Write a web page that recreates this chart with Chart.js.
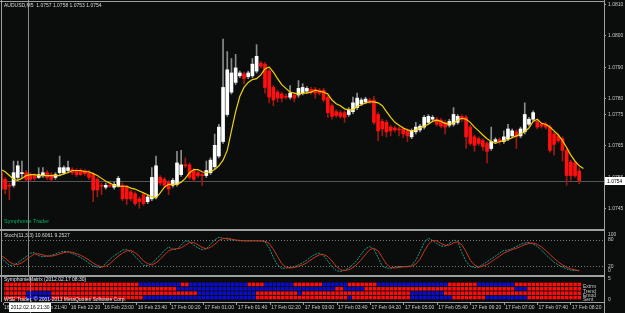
<!DOCTYPE html>
<html>
<head>
<meta charset="utf-8">
<script src="https://cdn.jsdelivr.net/npm/chart.js@4.4.1/dist/chart.umd.min.js"></script>
<style>
html, body { margin: 0; padding: 0; background: #0b0d0d; }
#wrap { position: relative; width: 625px; height: 313px; overflow: hidden; background: #0b0d0d; }
canvas { position: absolute; left: 0; }
</style>
</head>
<body>
<div id="wrap">
  <canvas id="main" width="625" height="229" style="top:0px"></canvas>
  <canvas id="stoch" width="625" height="47" style="top:229px"></canvas>
  <canvas id="sym" width="625" height="37" style="top:276px"></canvas>
</div>
<script>
// AUDUSD M5, bar 0 = 16 Feb 21:00
var symbol = 'AUDUSD,M5';
var open = [1.07565,1.07544,1.07525,1.07525,1.07550,1.07562,1.07565,1.07559,1.07556,1.07550,
  1.07556,1.07565,1.07559,1.07550,1.07565,1.07565,1.07572,1.07575,1.07572,1.07572,
  1.07572,1.07565,1.07559,1.07544,1.07525,1.07519,1.07525,1.07519,1.07522,1.07525,
  1.07519,1.07504,1.07498,1.07482,1.07495,1.07473,1.07482,1.07488,1.07550,1.07544,
  1.07535,1.07525,1.07528,1.07559,1.07590,1.07590,1.07572,1.07565,1.07559,1.07556,
  1.07565,1.07584,1.07618,1.07664,1.07750,1.07821,1.07852,1.07873,1.07879,1.07870,
  1.07873,1.07888,1.07913,1.07910,1.07888,1.07836,1.07821,1.07815,1.07808,1.07805,
  1.07812,1.07812,1.07818,1.07824,1.07830,1.07830,1.07827,1.07827,1.07805,1.07778,
  1.07759,1.07756,1.07756,1.07750,1.07759,1.07772,1.07784,1.07790,1.07796,1.07796,
  1.07750,1.07728,1.07725,1.07710,1.07707,1.07704,1.07704,1.07698,1.07679,1.07695,
  1.07701,1.07710,1.07725,1.07735,1.07735,1.07732,1.07725,1.07716,1.07719,1.07725,
  1.07744,1.07741,1.07710,1.07679,1.07673,1.07667,1.07658,1.07642,1.07664,1.07670,
  1.07664,1.07673,1.07682,1.07695,1.07682,1.07695,1.07719,1.07735,1.07728,1.07719,
  1.07719,1.07710,1.07688,1.07682,1.07673,1.07636,1.07599,1.07596,1.0757];
var high = [1.07572,1.07550,1.07532,1.07602,1.07602,1.07602,1.07572,1.07565,1.07562,1.07581,
  1.07581,1.07572,1.07565,1.07565,1.07618,1.07587,1.07602,1.07581,1.07578,1.07578,
  1.07575,1.07572,1.07565,1.07550,1.07532,1.07532,1.07532,1.07535,1.07553,1.07532,
  1.07525,1.07510,1.07504,1.07488,1.07501,1.07495,1.07581,1.07618,1.07556,1.07550,
  1.07541,1.07547,1.07633,1.07636,1.07612,1.07596,1.07578,1.07572,1.07565,1.07602,
  1.07612,1.07688,1.07719,1.07990,1.07950,1.07928,1.07941,1.07888,1.07885,1.07888,
  1.07928,1.07972,1.07919,1.07916,1.07895,1.07842,1.07827,1.07821,1.07815,1.07842,
  1.07818,1.07858,1.07848,1.07839,1.07836,1.07836,1.07833,1.07833,1.07812,1.07784,
  1.07765,1.07762,1.07762,1.07772,1.07805,1.07818,1.07802,1.07805,1.07802,1.07808,
  1.07756,1.07735,1.07732,1.07716,1.07713,1.07710,1.07710,1.07704,1.07704,1.07725,
  1.07719,1.07747,1.07750,1.07747,1.07741,1.07738,1.07732,1.07735,1.07772,1.07750,
  1.07750,1.07747,1.07716,1.07685,1.07679,1.07673,1.07664,1.07710,1.07676,1.07676,
  1.07698,1.07719,1.07704,1.07701,1.07710,1.07787,1.07741,1.07762,1.07735,1.07725,
  1.07725,1.07716,1.07695,1.07688,1.07679,1.07642,1.07605,1.07602,1.0758];
var low = [1.07507,1.07498,1.07479,1.07519,1.07544,1.07550,1.07538,1.07538,1.07541,1.07547,
  1.07550,1.07544,1.07538,1.07544,1.07559,1.07559,1.07565,1.07559,1.07553,1.07556,
  1.07556,1.07544,1.07473,1.07488,1.07495,1.07513,1.07519,1.07513,1.07519,1.07476,
  1.07464,1.07476,1.07461,1.07452,1.07461,1.07467,1.07476,1.07482,1.07525,1.07519,
  1.07495,1.07519,1.07522,1.07553,1.07581,1.07544,1.07538,1.07550,1.07525,1.07550,
  1.07559,1.07578,1.07612,1.07658,1.07744,1.07815,1.07845,1.07867,1.07848,1.07864,
  1.07867,1.07882,1.07898,1.07818,1.07787,1.07778,1.07790,1.07790,1.07799,1.07799,
  1.07790,1.07805,1.07812,1.07818,1.07815,1.07802,1.07812,1.07790,1.07741,1.07735,
  1.07741,1.07738,1.07725,1.07744,1.07753,1.07765,1.07778,1.07784,1.07784,1.07719,
  1.07667,1.07682,1.07679,1.07682,1.07695,1.07682,1.07676,1.07664,1.07673,1.07688,
  1.07695,1.07704,1.07719,1.07728,1.07713,1.07707,1.07688,1.07710,1.07713,1.07719,
  1.07728,1.07642,1.07652,1.07633,1.07652,1.07636,1.07596,1.07636,1.07658,1.07655,
  1.07658,1.07667,1.07676,1.07642,1.07676,1.07688,1.07713,1.07728,1.07704,1.07707,
  1.07704,1.07630,1.07621,1.07661,1.07602,1.07525,1.07541,1.07550,1.0753];
var close = [1.07513,1.07513,1.07522,1.07565,1.07587,1.07565,1.07544,1.07544,1.07547,1.07559,
  1.07565,1.07550,1.07544,1.07559,1.07581,1.07581,1.07581,1.07565,1.07559,1.07559,
  1.07562,1.07550,1.07510,1.07510,1.07522,1.07525,1.07522,1.07528,1.07547,1.07482,
  1.07482,1.07482,1.07467,1.07473,1.07467,1.07488,1.07550,1.07587,1.07532,1.07525,
  1.07513,1.07541,1.07596,1.07590,1.07587,1.07550,1.07544,1.07556,1.07556,1.07572,
  1.07605,1.07652,1.07710,1.07836,1.07892,1.07882,1.07898,1.07882,1.07864,1.07882,
  1.07910,1.07935,1.07904,1.07836,1.07805,1.07796,1.07802,1.07802,1.07805,1.07818,
  1.07802,1.07833,1.07836,1.07833,1.07821,1.07818,1.07818,1.07796,1.07756,1.07744,
  1.07747,1.07744,1.07741,1.07765,1.07787,1.07802,1.07796,1.07799,1.07790,1.07725,
  1.07698,1.07704,1.07695,1.07698,1.07701,1.07701,1.07688,1.07682,1.07698,1.07710,
  1.07713,1.07741,1.07744,1.07741,1.07719,1.07713,1.07710,1.07728,1.07750,1.07744,
  1.07735,1.07679,1.07658,1.07652,1.07658,1.07648,1.07633,1.07664,1.07670,1.07664,
  1.07679,1.07704,1.07698,1.07679,1.07704,1.07750,1.07735,1.07756,1.07710,1.07713,
  1.07710,1.07636,1.07655,1.07667,1.07636,1.07556,1.07556,1.07556,1.0754];
// shifted moving average (yellow), one value per bar slot
var ma = [1.07575,1.07568,1.07556,1.07544,1.07541,1.07547,1.07556,1.07559,1.07559,1.07556,
  1.07556,1.07556,1.07556,1.07556,1.07556,1.07562,1.07565,1.07572,1.07572,1.07572,
  1.07568,1.07568,1.07562,1.07556,1.07547,1.07538,1.07532,1.07525,1.07522,1.07522,
  1.07522,1.07516,1.07513,1.07507,1.07501,1.07495,1.07488,1.07485,1.07501,1.07519,
  1.07528,1.07528,1.07528,1.07535,1.07547,1.07565,1.07575,1.07575,1.07568,1.07565,
  1.07568,1.07575,1.07587,1.07605,1.07636,1.07698,1.07759,1.07808,1.07836,1.07852,
  1.07861,1.07864,1.07876,1.07895,1.07901,1.07885,1.07864,1.07845,1.07833,1.07821,
  1.07818,1.07815,1.07818,1.07818,1.07821,1.07827,1.07824,1.07821,1.07815,1.07796,
  1.07784,1.07778,1.07768,1.07765,1.07765,1.07775,1.07781,1.07787,1.07790,1.07790,
  1.07787,1.07778,1.07759,1.07741,1.07725,1.07716,1.07707,1.07701,1.07698,1.07701,
  1.07707,1.07713,1.07719,1.07728,1.07732,1.07728,1.07722,1.07719,1.07722,1.07732,
  1.07738,1.07735,1.07725,1.07710,1.07698,1.07685,1.07673,1.07664,1.07658,1.07664,
  1.07667,1.07670,1.07676,1.07682,1.07688,1.07695,1.07707,1.07728,1.07735,1.07722,
  1.07719,1.07710,1.07698,1.07685,1.07667,1.07645,1.07621,1.07602,1.07587,1.07578];
var priceTicks = [1.0745, 1.0755, 1.0765, 1.0775, 1.0780, 1.0790, 1.0800, 1.0810];

// Stoch(11,3,3)
var stochMain = [40,30,22,22,28,35,42,50,51,44,
  42,43,45,48,52,54,53,49,45,40,
  34,27,21,18,17,26,36,44,50,57,
  58,53,42,33,22,22,26,36,45,56,
  64,58,59,68,78,76,68,62,58,60,
  70,80,86,84,82,80,79,78,78,78,
  78,78,78,76,62,40,23,15,16,17,
  19,23,28,34,42,47,50,44,32,19,
  10,8,11,16,24,34,48,60,65,59,
  40,20,16,15,18,19,19,19,22,34,
  53,74,84,79,72,66,66,72,80,77,
  51,31,20,17,18,24,30,37,43,50,
  56,57,60,65,70,73,74,71,65,57,
  47,38,29,23,18,14,11,10,10.6061];
var stochSignal = [45,38,30,25,24,28,35,42,48,48,
  46,43,43,45,48,51,53,52,49,45,
  40,34,27,22,19,20,26,35,43,50,
  55,56,51,43,32,26,23,28,36,46,
  55,59,60,62,68,74,74,69,63,60,
  63,70,79,83,84,82,80,79,78,78,
  78,78,78,77,72,59,42,26,18,16,
  17,20,23,28,35,41,46,47,42,32,
  20,12,10,12,17,25,35,47,58,61,
  55,40,25,17,16,17,19,19,20,25,
  36,54,70,79,78,72,68,68,73,76,
  69,53,34,23,18,20,24,30,37,43,
  50,54,58,61,65,69,72,73,70,64,
  56,47,38,30,23,18,14,12,9.2527];
var stochLevels = [20, 80];
var stochLabels = [100, 80, 20, 0];

// SymphonieMatrix rows, runs of red (R) / blue (B) cells
var rowNames = ['Extrm', 'Trend', 'Emod', 'Sent'];
var rowLevels = [4, 3, 2, 1];
var extrmRuns = [['R',33],['B',10],['R',2],['B',14],['R',4],['B',7],['R',7],['B',6],['R',7],['B',17],['R',7],['B',9],['R',16]];
var trendRuns = [['R',42],['B',38],['R',2],['B',5],['R',36],['B',3],['R',13]];
var emodRuns = [['R',6],['B',6],['R',35],['B',14],['R',10],['B',1],['R',26],['B',8],['R',33]];
var sentRuns = [['R',6],['B',6],['R',22],['B',27],['R',22],['B',1],['R',14],['B',10],['R',8],['B',10],['R',13]];

var timeTickBars = [0,8,16,24,32,40,48,56,64,72,80,88,96,104,112,120,128,136];
var timeTickLabels = ['16 Feb 21:00','16 Feb 21:40','16 Feb 22:20','16 Feb 23:00','16 Feb 23:40','17 Feb 00:20',
  '17 Feb 01:00','17 Feb 01:40','17 Feb 02:20','17 Feb 03:00','17 Feb 03:40','17 Feb 04:20',
  '17 Feb 05:00','17 Feb 05:40','17 Feb 06:20','17 Feb 07:00','17 Feb 07:40','17 Feb 08:20'];
var cursorBar = 6.5;
var cursorLabel = '2012.02.16 21:30';
var symTitle = 'SymphonieMatrix (2012.02.17 08:30)';

var FONT = '5px "Liberation Sans", Arial, sans-serif';
var frameCol = '#a0a0a0';
var txtCol = '#c8c8c8';
var xMin = 0.2387, xMax = 143.914;

Chart.defaults.font.family = '"Liberation Sans", Arial, sans-serif';
Chart.defaults.font.size = 5;

var last = close.length - 1;
var isBull = close.map(function (c, i) { return c >= open[i]; });

function frame(ctx, h) {
  ctx.fillStyle = frameCol;
  ctx.fillRect(1, 0, 1, h);
  ctx.fillRect(604, 0, 1, h);
}
function cursorLine(chart) {
  var ctx = chart.ctx;
  var cx = Math.round(chart.scales.x.getPixelForValue(cursorBar)) + 0.5;
  ctx.save();
  ctx.strokeStyle = '#8a8a8a';
  ctx.lineWidth = 1;
  ctx.beginPath(); ctx.moveTo(cx, 0); ctx.lineTo(cx, chart.height); ctx.stroke();
  ctx.restore();
}

// ---------- main price panel ----------
var mainDeco = {
  id: 'mainDeco',
  beforeDatasetsDraw: function (chart) {
    var ctx = chart.ctx, a = chart.chartArea, y = chart.scales.y;
    var by = Math.round(y.getPixelForValue(close[last])) + 0.5;
    ctx.save();
    ctx.strokeStyle = '#555';
    ctx.lineWidth = 1;
    ctx.beginPath(); ctx.moveTo(a.left, by); ctx.lineTo(a.right, by); ctx.stroke();
    ctx.restore();
    cursorLine(chart);
  },
  afterDraw: function (chart) {
    var ctx = chart.ctx, y = chart.scales.y;
    ctx.save();
    frame(ctx, chart.height);
    ctx.fillRect(0, 1, 605, 1);
    ctx.font = FONT;
    ctx.textBaseline = 'middle';
    ctx.fillStyle = '#d8d8d8';
    ctx.fillText(symbol + '  ' + open[last].toFixed(4) + ' ' + high[last].toFixed(4) + ' ' +
      low[last].toFixed(4) + ' ' + close[last].toFixed(4), 4, 5.5);
    ctx.fillStyle = '#00b060';
    ctx.font = '5.5px "Liberation Sans", Arial, sans-serif';
    ctx.fillText('Symphonie Trader', 4, 221);
    var by = Math.round(y.getPixelForValue(close[last]));
    ctx.fillStyle = '#ffffff';
    ctx.fillRect(605, by - 4, 20, 8);
    ctx.fillStyle = '#000000';
    ctx.font = FONT;
    ctx.fillText(close[last].toFixed(4), 607, by + 0.5);
    ctx.restore();
  }
};

new Chart(document.getElementById('main'), {
  type: 'bar',
  data: {
    datasets: [
      { type: 'line', data: ma.map(function (v, i) { return { x: i, y: v }; }),
        borderColor: '#f2d200', borderWidth: 1.2, pointRadius: 0, tension: 0, order: 0 },
      { data: close.map(function (c, i) { return { x: i, y: [open[i], c] }; }),
        backgroundColor: isBull.map(function (b) { return b ? '#ffffff' : '#ff1010'; }),
        barThickness: 3, minBarLength: 1, grouped: false, borderWidth: 0, order: 1 },
      { data: close.map(function (c, i) { return { x: i, y: [low[i], high[i]] }; }),
        backgroundColor: isBull.map(function (b) { return b ? '#8c8c8c' : '#9a1a10'; }),
        barThickness: 1, grouped: false, borderWidth: 0, order: 2 }
    ]
  },
  options: {
    responsive: false, animation: false, events: [],
    layout: { padding: { left: 2, right: 0, top: 1.5, bottom: 1 } },
    plugins: { legend: { display: false }, tooltip: { enabled: false } },
    scales: {
      x: { type: 'linear', min: xMin, max: xMax, offset: false, display: false },
      y: {
        position: 'right', min: 1.07402, max: 1.08098,
        afterBuildTicks: function (s) { s.ticks = priceTicks.map(function (v) { return { value: v }; }); },
        afterFit: function (s) { s.width = 21; },
        ticks: { color: txtCol, padding: 2, font: { size: 5 },
          callback: function (v) { return Number(v).toFixed(4); } },
        grid: { display: true, drawOnChartArea: false, color: frameCol, tickLength: 2 },
        border: { display: true, color: frameCol }
      }
    }
  },
  plugins: [mainDeco]
});

// ---------- stochastic panel ----------
var stochDeco = {
  id: 'stochDeco',
  beforeDatasetsDraw: function (chart) {
    var ctx = chart.ctx, a = chart.chartArea, y = chart.scales.y;
    ctx.save();
    ctx.strokeStyle = '#7a7a7a';
    ctx.lineWidth = 1;
    ctx.setLineDash([1, 2]);
    stochLevels.forEach(function (lv) {
      var py = Math.round(y.getPixelForValue(lv)) + 0.5;
      ctx.beginPath(); ctx.moveTo(a.left, py); ctx.lineTo(a.right, py); ctx.stroke();
    });
    ctx.restore();
    cursorLine(chart);
  },
  afterDraw: function (chart) {
    var ctx = chart.ctx, a = chart.chartArea, y = chart.scales.y;
    ctx.save();
    frame(ctx, chart.height);
    ctx.fillRect(0, 0, 605, 2);
    ctx.fillRect(0, 46, 605, 1);
    ctx.font = FONT;
    ctx.textBaseline = 'middle';
    ctx.fillStyle = txtCol;
    stochLabels.forEach(function (lv) {
      var py = Math.min(Math.max(y.getPixelForValue(lv), a.top + 3), a.bottom - 4);
      ctx.fillText(String(lv), 608, py);
    });
    ctx.fillStyle = '#d8d8d8';
    ctx.fillText('Stoch(11,3,3) ' + stochMain[last].toFixed(4) + ' ' + stochSignal[last].toFixed(4), 4, 6.8);
    ctx.restore();
  }
};

new Chart(document.getElementById('stoch'), {
  type: 'line',
  data: {
    datasets: [
      { data: stochSignal.map(function (v, i) { return { x: i, y: v }; }),
        borderColor: '#d0341a', borderWidth: 1, pointRadius: 0, tension: 0 },
      { data: stochMain.map(function (v, i) { return { x: i, y: v }; }),
        borderColor: '#1f9a88', borderWidth: 1, borderDash: [2, 1], pointRadius: 0, tension: 0 }
    ]
  },
  options: {
    responsive: false, animation: false, events: [],
    layout: { padding: { left: 2, right: 0, top: 2.2, bottom: 1 } },
    plugins: { legend: { display: false }, tooltip: { enabled: false } },
    scales: {
      x: { type: 'linear', min: xMin, max: xMax, offset: false, display: false },
      y: { position: 'right', min: 0, max: 100,
        afterFit: function (s) { s.width = 21; },
        ticks: { display: false }, grid: { display: false },
        border: { display: true, color: frameCol } }
    }
  },
  plugins: [stochDeco]
});

// ---------- SymphonieMatrix panel ----------
function expand(runs) {
  var out = [];
  runs.forEach(function (r) { for (var k = 0; k < r[1]; k++) out.push(r[0]); });
  return out;
}
var rows = [expand(extrmRuns), expand(trendRuns), expand(emodRuns), expand(sentRuns)];

var symDeco = {
  id: 'symDeco',
  beforeDatasetsDraw: function (chart) { cursorLine(chart); },
  afterDraw: function (chart) {
    var ctx = chart.ctx, y = chart.scales.y, x = chart.scales.x;
    ctx.save();
    frame(ctx, 26);
    ctx.fillRect(604, 0, 1, chart.height);
    ctx.fillRect(0, 0, 605, 1);
    ctx.font = FONT;
    ctx.textBaseline = 'middle';
    ctx.fillStyle = txtCol;
    ctx.fillText('5', 608, 3);
    ctx.fillText('0', 608, 24);
    rowNames.forEach(function (n, k) {
      ctx.fillText(n, 583, y.getPixelForValue(rowLevels[k]) + 2.5);
    });
    ctx.fillStyle = '#e4e4f4';
    ctx.fillText(symTitle, 4, 4);
    ctx.fillStyle = '#e8e8e8';
    ctx.fillText('WSE Trader, \u00a9 2001-2011 MetaQuotes Software Corp.', 4, 23.5);
    var cx = x.getPixelForValue(cursorBar);
    ctx.font = FONT;
    var w = ctx.measureText(cursorLabel).width + 3;
    ctx.fillStyle = '#ffffff';
    ctx.fillRect(Math.round(cx - w / 2), 27, Math.round(w), 9);
    ctx.fillStyle = '#000000';
    ctx.textAlign = 'center';
    ctx.fillText(cursorLabel, cx, 31.5);
    ctx.restore();
  }
};

new Chart(document.getElementById('sym'), {
  type: 'scatter',
  data: {
    datasets: rows.map(function (r, k) {
      return {
        data: r.map(function (s, i) { return { x: i, y: rowLevels[k] }; }),
        backgroundColor: r.map(function (s) { return s === 'R' ? '#ff0c0c' : '#0c0cd0'; }),
        pointStyle: 'rect', pointRadius: 2.5, borderWidth: 0
      };
    })
  },
  options: {
    responsive: false, animation: false, events: [],
    layout: { padding: { left: 2, right: 0, top: 1, bottom: 0 } },
    plugins: { legend: { display: false }, tooltip: { enabled: false } },
    scales: {
      x: { type: 'linear', min: xMin, max: xMax, offset: false,
        afterBuildTicks: function (s) { s.ticks = timeTickBars.map(function (v) { return { value: v }; }); },
        afterFit: function (s) { s.height = 11; },
        ticks: { color: txtCol, font: { size: 5 }, autoSkip: false, maxRotation: 0, minRotation: 0,
          align: 'start', padding: 0, labelOffset: 1,
          callback: function (v, i) { return timeTickLabels[i]; } },
        grid: { display: true, drawOnChartArea: false, color: frameCol, tickLength: 3 },
        border: { display: true, color: frameCol } },
      y: { position: 'right', min: 0, max: 5,
        afterFit: function (s) { s.width = 21; },
        ticks: { display: false }, grid: { display: false },
        border: { display: true, color: frameCol } }
    }
  },
  plugins: [symDeco]
});
</script>
</body>
</html>
